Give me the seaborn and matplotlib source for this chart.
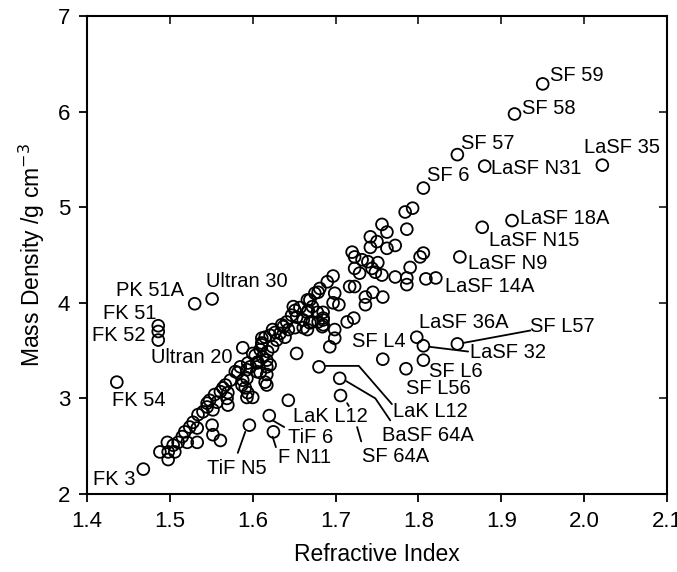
import numpy as np
import pandas as pd
import seaborn as sns
import matplotlib.pyplot as plt

# glass data: refractive index n_d and mass density (g/cm3)
n_index = [
    # labelled glasses
    1.950, 1.916, 1.847, 1.880, 2.022, 1.806, 1.913, 1.877, 1.850, 1.809, 1.821,
    1.798, 1.806, 1.847, 1.806, 1.785, 1.757,
    1.680, 1.705, 1.706, 1.643,
    1.530, 1.551, 1.486, 1.486, 1.486, 1.436, 1.468, 1.588,
    1.596, 1.620, 1.625, 1.653,
    # lower band
    1.488, 1.498, 1.506, 1.498, 1.497, 1.504, 1.510, 1.521, 1.515, 1.518,
    1.524, 1.533, 1.528, 1.534, 1.540, 1.545, 1.548, 1.557, 1.554, 1.561,
    1.570, 1.570, 1.567, 1.573, 1.579, 1.585, 1.593, 1.591, 1.593, 1.600,
    1.597, 1.600, 1.605, 1.609, 1.617, 1.617, 1.617, 1.612, 1.618, 1.624,
    1.611, 1.611, 1.624, 1.629, 1.551, 1.552, 1.561, 1.533,
    # middle band
    1.649, 1.657, 1.666, 1.672, 1.647, 1.653, 1.661, 1.669, 1.641, 1.635,
    1.643, 1.627, 1.633, 1.621, 1.639, 1.615, 1.611, 1.609, 1.603, 1.617,
    1.606, 1.621, 1.594, 1.593, 1.605, 1.615, 1.582, 1.588, 1.587, 1.594,
    1.564, 1.569, 1.545, 1.552,
    # upper part of band
    1.690, 1.697, 1.699, 1.704, 1.697, 1.714, 1.722, 1.699, 1.699, 1.693,
    1.685, 1.685, 1.685, 1.679, 1.672, 1.666, 1.651, 1.669, 1.675, 1.681,
    1.679, 1.666, 1.667, 1.678, 1.685, 1.637, 1.651, 1.661, 1.684,
    1.717, 1.723, 1.736, 1.745, 1.757, 1.736,
    # dense flint cluster
    1.756, 1.762, 1.742, 1.750, 1.762, 1.772, 1.742, 1.720, 1.723, 1.732,
    1.739, 1.751, 1.723, 1.729, 1.744, 1.748, 1.756, 1.772,
    1.784, 1.793, 1.786, 1.802, 1.806, 1.790, 1.786, 1.786,
]
density = [
    6.29, 5.975, 5.55, 5.43, 5.44, 5.20, 4.86, 4.79, 4.48, 4.25, 4.26,
    3.64, 3.55, 3.57, 3.40, 3.31, 3.41,
    3.33, 3.21, 3.03, 2.98,
    3.99, 4.04, 3.76, 3.70, 3.61, 3.17, 2.26, 3.53,
    2.72, 2.82, 2.65, 3.47,
    2.44, 2.44, 2.44, 2.36, 2.54, 2.51, 2.54, 2.54, 2.60, 2.65,
    2.70, 2.69, 2.75, 2.83, 2.86, 2.91, 2.98, 2.96, 3.04, 3.07,
    3.06, 2.93, 3.14, 3.19, 3.28, 3.33, 3.21, 3.11, 3.01, 3.01,
    3.33, 3.47, 3.37, 3.27, 3.33, 3.25, 3.14, 3.43, 3.49, 3.54,
    3.56, 3.63, 3.72, 3.61, 2.72, 2.62, 2.56, 2.54,
    3.96, 3.95, 3.90, 3.96, 3.87, 3.85, 3.82, 3.79, 3.80, 3.77,
    3.72, 3.69, 3.68, 3.66, 3.64, 3.64, 3.58, 3.51, 3.45, 3.40,
    3.38, 3.35, 3.37, 3.30, 3.28, 3.17, 3.27, 3.19, 3.14, 3.06,
    3.11, 3.00, 2.95, 2.88,
    4.22, 4.28, 4.10, 3.98, 4.00, 3.80, 3.84, 3.72, 3.63, 3.54,
    3.77, 3.84, 3.90, 3.80, 3.80, 3.72, 3.92, 4.03, 4.10, 4.15,
    4.11, 4.03, 3.92, 3.90, 3.82, 3.75, 3.74, 3.74, 3.75,
    4.17, 4.17, 4.06, 4.11, 4.06, 3.98,
    4.82, 4.74, 4.69, 4.64, 4.57, 4.60, 4.58, 4.53, 4.48, 4.45,
    4.43, 4.42, 4.36, 4.31, 4.36, 4.32, 4.29, 4.27,
    4.95, 4.99, 4.77, 4.48, 4.52, 4.37, 4.26, 4.19,
]

# glass names, placed by their left edge and vertical centre
label_text = ['SF 59', 'SF 58', 'SF 57', 'LaSF 35', 'LaSF N31', 'SF 6',
              'LaSF 18A', 'LaSF N15', 'LaSF N9', 'LaSF 14A', 'LaSF 36A',
              'SF L57', 'LaSF 32', 'SF L4', 'SF L6', 'SF L56', 'LaK L12',
              'BaSF 64A', 'SF 64A', 'LaK L12', 'TiF 6', 'F N11', 'TiF N5',
              'FK 3', 'FK 54', 'Ultran 20', 'FK 52', 'FK 51', 'PK 51A',
              'Ultran 30']
label_n = [1.959, 1.925, 1.851, 2.000, 1.888, 1.810,
           1.923, 1.885, 1.860, 1.832, 1.801,
           1.935, 1.862, 1.720, 1.813, 1.785, 1.769,
           1.756, 1.732, 1.649, 1.643, 1.631, 1.545,
           1.407, 1.430, 1.477, 1.406, 1.419, 1.435,
           1.544]
label_rho = [6.38, 6.03, 5.67, 5.62, 5.41, 5.33,
             4.88, 4.65, 4.41, 4.17, 3.79,
             3.75, 3.48, 3.60, 3.28, 3.10, 2.86,
             2.61, 2.39, 2.81, 2.59, 2.38, 2.27,
             2.15, 2.98, 3.43, 3.66, 3.89, 4.13,
             4.22]

# leader lines (n values, density values)
leaders = [
    ([1.624, 1.638], [2.77, 2.70]),                 # TiF 6
    ([1.624, 1.628], [2.60, 2.49]),                 # F N11
    ([1.591, 1.582], [2.65, 2.43]),                 # TiF N5
    ([1.813, 1.860], [3.54, 3.49]),                 # LaSF 32
    ([1.854, 1.935], [3.58, 3.71]),                 # SF L57
    ([1.688, 1.728, 1.768], [3.34, 3.34, 2.94]),    # LaK L12
    ([1.713, 1.748, 1.766], [3.18, 3.00, 2.77]),    # BaSF 64A
    ([1.714, 1.716], [2.95, 2.92]),                 # SF 64A (cut by text)
    ([1.726, 1.731], [2.70, 2.55]),
]

df = pd.DataFrame({'n': n_index, 'rho': density})

sns.set_theme(style='ticks')
plt.rcParams['font.family'] = ['Liberation Sans', 'DejaVu Sans']
plt.rcParams['text.color'] = 'black'
plt.rcParams['axes.labelcolor'] = 'black'

fig = plt.figure(figsize=(6.77, 5.72), dpi=100)
ax = fig.add_axes([0.1285, 0.1364, 0.8567, 0.8356])

sns.scatterplot(data=df, x='n', y='rho', ax=ax, marker='o', s=72,
                facecolors='none', edgecolor='black', linewidth=1.3,
                legend=False, zorder=3)

for xs, ys in leaders:
    ax.plot(xs, ys, color='black', lw=1.3, zorder=2)

for t, x, y in zip(label_text, label_n, label_rho):
    ax.text(x, y, t, fontsize=14.5, ha='left', va='center', color='black')

ax.set_xlim(1.4, 2.1)
ax.set_ylim(2, 7)
ax.set_xticks(np.arange(1.4, 2.11, 0.1))
ax.set_xticklabels([f'{v:.1f}' for v in np.arange(1.4, 2.11, 0.1)])
ax.set_yticks(range(2, 8))
ax.tick_params(direction='out', length=6, width=1.3, labelsize=16,
               colors='black', pad=6)
for sp in ax.spines.values():
    sp.set_linewidth(1.5)
    sp.set_color('black')

# mirrored ticks pointing inward on top and right
top = ax.secondary_xaxis('top')
top.set_xticks(ax.get_xticks())
top.tick_params(direction='in', length=6, width=1.3, labeltop=False)
right = ax.secondary_yaxis('right')
right.set_yticks(ax.get_yticks())
right.tick_params(direction='in', length=6, width=1.3, labelright=False)

ax.set_xlabel('Refractive Index', fontsize=16.5, labelpad=8, color='black')
ax.set_ylabel('Mass Density /g cm$^{-3}$', fontsize=16.5, labelpad=8,
              color='black')

fig.savefig('out.png', dpi=100)
